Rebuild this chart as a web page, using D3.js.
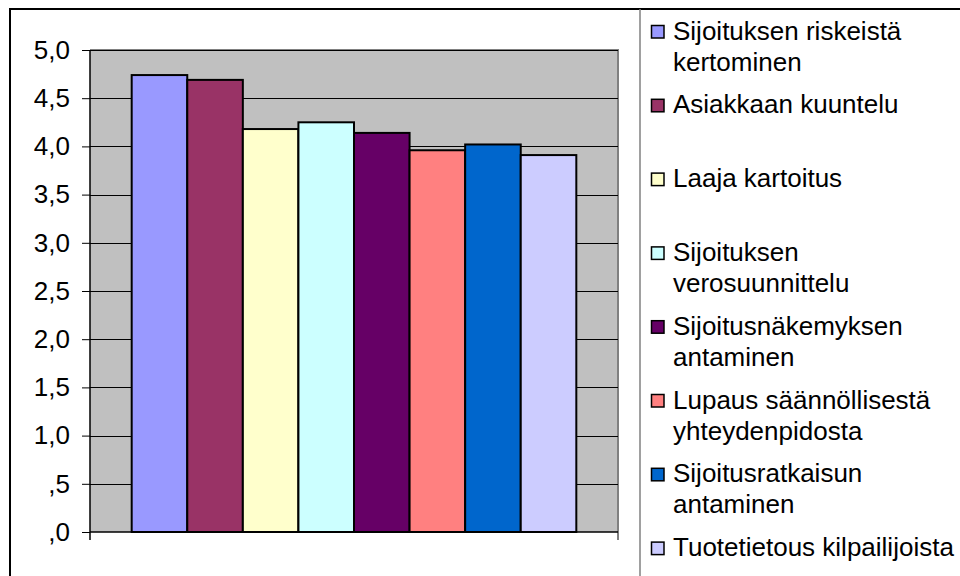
<!DOCTYPE html>
<html>
<head>
<meta charset="utf-8">
<script src="https://cdn.jsdelivr.net/npm/d3@7"></script>
<style>
  html, body { margin: 0; padding: 0; background: #fff; }
  svg { display: block; }
  text { font-family: "Liberation Sans", Arial, sans-serif; fill: #000; }
</style>
</head>
<body>
<svg id="chart" width="960" height="576"></svg>
<script>
// Single category, eight series (one bar each)
const categories = [""];
const seriesNames = [
  "Sijoituksen riskeistä\nkertominen",
  "Asiakkaan kuuntelu",
  "Laaja kartoitus",
  "Sijoituksen\nverosuunnittelu",
  "Sijoitusnäkemyksen\nantaminen",
  "Lupaus säännöllisestä\nyhteydenpidosta",
  "Sijoitusratkaisun\nantaminen",
  "Tuotetietous kilpailijoista"
];
const seriesValues = [4.74, 4.69, 4.18, 4.25, 4.14, 3.96, 4.02, 3.91];
const seriesColors = ["#9999FF", "#993366", "#FFFFCC", "#CCFFFF", "#660066", "#FF8080", "#0066CC", "#CCCCFF"];
const yTicks = [0, 0.5, 1, 1.5, 2, 2.5, 3, 3.5, 4, 4.5, 5];
const yTickLabels = [",0", ",5", "1,0", "1,5", "2,0", "2,5", "3,0", "3,5", "4,0", "4,5", "5,0"];

const svg = d3.select("#chart");
const plot = { left: 90, top: 50, right: 618, bottom: 532 };
const fontSize = 26;
const letterSpacing = 0;

// Outer chart frame
svg.append("rect")
  .attr("x", 10).attr("y", 9)
  .attr("width", 980).attr("height", 600)
  .attr("fill", "#fff").attr("stroke", "#000").attr("stroke-width", 2);

// Plot area background
svg.append("rect")
  .attr("x", plot.left).attr("y", plot.top)
  .attr("width", plot.right - plot.left).attr("height", plot.bottom - plot.top)
  .attr("fill", "#C0C0C0");
// Plot area border (top and right edges)
svg.append("path")
  .attr("d", `M${plot.left},${plot.top}H${plot.right}V${plot.bottom}`)
  .attr("fill", "none").attr("stroke", "#808080").attr("stroke-width", 2);

const y = d3.scaleLinear().domain([0, 5]).range([plot.bottom, plot.top]);
const x0 = d3.scaleBand().domain(categories).range([plot.left, plot.right]).padding(0);
const x1 = d3.scaleBand().domain(d3.range(seriesValues.length))
  .range([0, x0.bandwidth()]).paddingInner(0).paddingOuter(0.75);

// Horizontal gridlines
svg.append("g")
  .selectAll("line")
  .data(yTicks.filter(t => t > 0))
  .join("line")
  .attr("x1", plot.left).attr("x2", plot.right)
  .attr("y1", d => Math.round(y(d)) + 0.5).attr("y2", d => Math.round(y(d)) + 0.5)
  .attr("stroke", "#000").attr("stroke-width", 1);

// Bars
const group = svg.append("g").attr("transform", `translate(${x0(categories[0])},0)`);
group.selectAll("rect")
  .data(seriesValues)
  .join("rect")
  .attr("x", (d, i) => x1(i))
  .attr("y", d => y(d))
  .attr("width", x1.bandwidth())
  .attr("height", d => y(0) - y(d))
  .attr("fill", (d, i) => seriesColors[i])
  .attr("stroke", "#000").attr("stroke-width", 2);

// Y axis
const yAxis = d3.axisLeft(y)
  .tickValues(yTicks)
  .tickFormat((d, i) => yTickLabels[i])
  .tickSizeInner(8).tickSizeOuter(0).tickPadding(12);
const yAxisG = svg.append("g")
  .attr("transform", `translate(${plot.left},0)`)
  .call(yAxis);
yAxisG.select(".domain").remove();
yAxisG.selectAll(".tick line").attr("stroke", "#000").attr("stroke-width", 1);
yAxisG.selectAll(".tick text")
  .style("font-family", '"Liberation Sans", Arial, sans-serif')
  .style("font-size", fontSize + "px")
  .style("letter-spacing", letterSpacing + "px")
  .attr("fill", "#000");
yAxisG.append("line")
  .attr("x1", 0).attr("x2", 0)
  .attr("y1", plot.top).attr("y2", plot.bottom + 8)
  .attr("stroke", "#000").attr("stroke-width", 1.5);

// X axis (category boundaries only)
const xAxisG = svg.append("g");
xAxisG.append("line")
  .attr("x1", plot.left).attr("x2", plot.right)
  .attr("y1", plot.bottom).attr("y2", plot.bottom)
  .attr("stroke", "#000").attr("stroke-width", 1.5);
xAxisG.selectAll("line.tk")
  .data([x0.range()[1]])
  .join("line").attr("class", "tk")
  .attr("x1", d => d).attr("x2", d => d)
  .attr("y1", plot.bottom).attr("y2", plot.bottom + 8)
  .attr("stroke", "#000").attr("stroke-width", 1);

// Legend
const legendX = 640;
svg.append("line")
  .attr("x1", legendX).attr("x2", legendX)
  .attr("y1", 9).attr("y2", 576)
  .attr("stroke", "#808080").attr("stroke-width", 1.5);

const rowStep = 73.8, firstBaseline = 39.5, lineGap = 31;
const legend = svg.append("g");
const items = legend.selectAll("g")
  .data(seriesNames)
  .join("g")
  .attr("transform", (d, i) => `translate(0,${firstBaseline + i * rowStep})`);
items.append("rect")
  .attr("x", 651.5).attr("y", -14)
  .attr("width", 12.5).attr("height", 12.5)
  .attr("fill", (d, i) => seriesColors[i])
  .attr("stroke", "#000").attr("stroke-width", 1.5);
items.append("text")
  .attr("x", 673)
  .style("font-size", fontSize + "px")
  .style("letter-spacing", letterSpacing + "px")
  .selectAll("tspan")
  .data(d => d.split("\n"))
  .join("tspan")
  .attr("x", 673)
  .attr("y", (d, j) => j * lineGap)
  .text(d => d);
</script>
</body>
</html>
